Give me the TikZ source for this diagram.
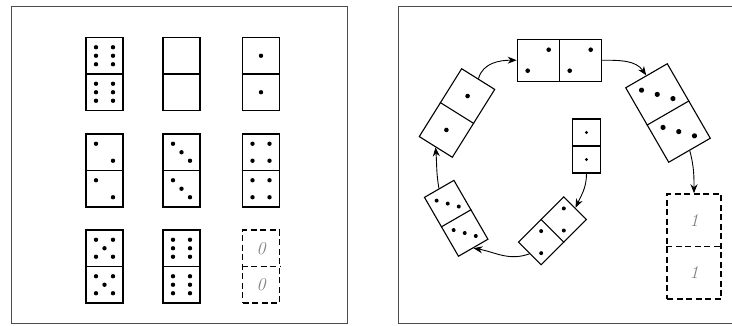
\documentclass[tikz,border=0pt]{standalone}
\usetikzlibrary{arrows.meta}

% pip patterns for one half, in grid steps
\newcommand{\pOne}{0/0}
\newcommand{\pTwo}{-1/1,1/-1}
\newcommand{\pThree}{-1/1,0/0,1/-1}
\newcommand{\pFour}{-1/1,1/1,-1/-1,1/-1}
\newcommand{\pFive}{-1/1,1/1,0/0,-1/-1,1/-1}
\newcommand{\pSix}{-1/1,1/1,-1/0,1/0,-1/-1,1/-1}
% same pips in both halves: half offset, grid, radius, pattern
\newcommand{\pips}[4]{%
  \foreach \px/\py in #4 {
    \fill (\px*#2, #1+\py*#2) circle (#3);
    \fill (\px*#2, -#1+\py*#2) circle (#3);
  }}

\begin{document}
\begin{tikzpicture}[x=1pt, y=1pt,
  frame/.style={draw=gray!60!black, line width=0.8pt},
  dom/.style={draw, line width=1.6pt, minimum width=37pt, minimum height=73pt, inner sep=0pt},
  bone/.style={draw, line width=1.1pt, inner sep=0pt},
  blank/.style={draw, line width=1.5pt, dash pattern=on 6pt off 3.5pt, inner sep=0pt},
  num/.style={text=gray, font=\fontsize{18}{18}\selectfont\itshape, inner sep=0pt},
  arr/.style={-{Stealth[length=9pt,width=7pt]}, line width=0.9pt}
]
\useasboundingbox (0,0) rectangle (732,325);

% left panel
\draw[frame] (11,2) rectangle (347,319);

\begin{scope}[shift={(104.5,251)}]
  \node[dom] (d11) {}; \draw[line width=1.6pt] (d11.west) -- (d11.east);
  \pips{18.25}{8.5}{2.2}{\pSix}
\end{scope}
\begin{scope}[shift={(181.5,251)}]
  \node[dom] (d12) {}; \draw[line width=1.6pt] (d12.west) -- (d12.east);
\end{scope}
\begin{scope}[shift={(261,251)}]
  \node[dom] (d13) {}; \draw[line width=1.6pt] (d13.west) -- (d13.east);
  \pips{18.25}{8.5}{2.2}{\pOne}
\end{scope}

\begin{scope}[shift={(104.5,154.5)}]
  \node[dom] (d21) {}; \draw[line width=1.6pt] (d21.west) -- (d21.east);
  \pips{18.25}{8.5}{2.2}{\pTwo}
\end{scope}
\begin{scope}[shift={(181.5,154.5)}]
  \node[dom] (d22) {}; \draw[line width=1.6pt] (d22.west) -- (d22.east);
  \pips{18.25}{8.5}{2.2}{\pThree}
\end{scope}
\begin{scope}[shift={(261,154.5)}]
  \node[dom] (d23) {}; \draw[line width=1.6pt] (d23.west) -- (d23.east);
  \pips{18.25}{8.5}{2.2}{\pFour}
\end{scope}

\begin{scope}[shift={(104.5,58.5)}]
  \node[dom] (d31) {}; \draw[line width=1.6pt] (d31.west) -- (d31.east);
  \pips{18.25}{8.5}{2.2}{\pFive}
\end{scope}
\begin{scope}[shift={(181.5,58.5)}]
  \node[dom] (d32) {}; \draw[line width=1.6pt] (d32.west) -- (d32.east);
  \pips{18.25}{8.5}{2.2}{\pSix}
\end{scope}
\begin{scope}[shift={(261,58.5)}]
  \node[blank, minimum width=37pt, minimum height=73pt] (d33) {};
  \draw[blank, line width=1.9pt] (d33.west) -- (d33.east);
  \node[num] (zero1) at (0,18.25) {0};
  \node[num] (zero2) at (0,-18.25) {0};
\end{scope}

% right panel
\draw[frame] (733,319) -- (398,319) -- (398,2) -- (733,2);

\begin{scope}[shift={(559.2,264.8)}, rotate=90, transform shape]
  \node[bone, minimum width=42pt, minimum height=84pt] (dtop) {};
  \draw[line width=1.1pt] (dtop.west) -- (dtop.east);
  \pips{21}{10.5}{2.3}{\pTwo}
\end{scope}
\begin{scope}[shift={(457,212)}, rotate=-32, transform shape]
  \node[bone, minimum width=39pt, minimum height=80pt] (dleft) {};
  \draw[line width=1.1pt] (dleft.west) -- (dleft.east);
  \pips{20}{10}{2.3}{\pOne}
\end{scope}
\begin{scope}[shift={(668,212)}, rotate=30, transform shape]
  \node[bone, minimum width=48pt, minimum height=86pt] (dright) {};
  \draw[line width=1.1pt] (dright.west) -- (dright.east);
  \pips{21.5}{11.5}{2.6}{\pThree}
\end{scope}
\begin{scope}[shift={(586.5,179)}]
  \node[bone, minimum width=28pt, minimum height=54pt] (dmid) {};
  \draw[line width=1.1pt] (dmid.west) -- (dmid.east);
  \pips{13.5}{7}{1.6}{\pOne}
\end{scope}
\begin{scope}[shift={(552.5,94.2)}, rotate=-45, transform shape]
  \node[bone, minimum width=32pt, minimum height=64pt] (dbot) {};
  \draw[line width=1.1pt] (dbot.west) -- (dbot.east);
  \pips{16}{7.8}{2}{\pTwo}
\end{scope}
\begin{scope}[shift={(456.2,106.7)}, rotate=30, transform shape]
  \node[bone, minimum width=34pt, minimum height=68pt] (dlow) {};
  \draw[line width=1.1pt] (dlow.west) -- (dlow.east);
  \pips{17}{8.1}{2}{\pThree}
\end{scope}
\begin{scope}[shift={(694,78.5)}]
  \node[blank, minimum width=54pt, minimum height=105pt] (dnew) {};
  \draw[blank, line width=1.9pt] (dnew.west) -- (dnew.east);
  \node[num] (one1) at (0,26.25) {1};
  \node[num] (one2) at (0,-26.25) {1};
\end{scope}

% the ring of moves
\draw[arr] (dleft.north) to[out=75, in=180] (dtop.north);
\draw[arr] (dtop.south) to[out=0, in=125] (dright.north);
\draw[arr] (dright.south) to[out=-75, in=90] (dnew.north);
\draw[arr] (dmid.south) to[out=-90, in=65] (dbot.north);
\draw[arr] (dbot.south) to[out=200, in=-10] (dlow.south);
\draw[arr] (dlow.north) to[out=100, in=-85] (dleft.south);
\end{tikzpicture}
\end{document}
